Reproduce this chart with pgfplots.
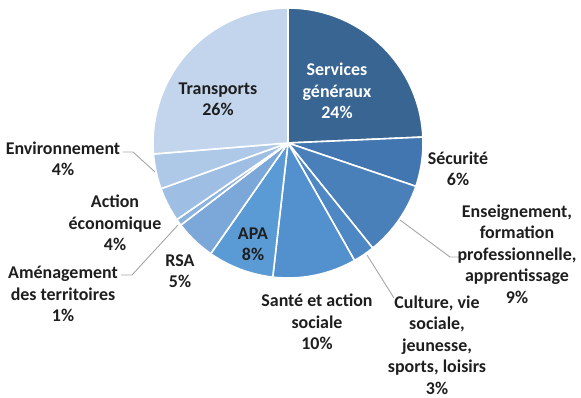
\documentclass[border=0pt]{standalone}
\usepackage{pgfplots}
\usepackage{pgfplotstable}
\pgfplotsset{compat=1.18}
\usepackage{fontspec}
\setmainfont{Carlito}
\definecolor{c1}{HTML}{386592}
\definecolor{c2}{HTML}{4276B0}
\definecolor{c3}{HTML}{4A80BA}
\definecolor{c4}{HTML}{4E88C4}
\definecolor{c5}{HTML}{5391CE}
\definecolor{c6}{HTML}{5B9BD5}
\definecolor{c7}{HTML}{7BA7D9}
\definecolor{c8}{HTML}{8CB2DE}
\definecolor{c9}{HTML}{9EBEE3}
\definecolor{c10}{HTML}{AEC8E8}
\definecolor{c11}{HTML}{C3D5ED}
\definecolor{lead}{HTML}{A6A6A6}
\definecolor{txt}{HTML}{1E1E1E}
% share of each budget item (%), clockwise from 12 o'clock
\pgfplotstableread{
value color
24.3 c1
5.9 c2
9.0 c3
2.6 c4
10.0 c5
7.9 c6
4.9 c7
0.8 c8
4.1 c9
4.2 c10
26.3 c11
}\piedata
\begin{document}
\begin{tikzpicture}
\path[use as bounding box] (0,0) rectangle (581bp,398bp);
\begin{axis}[at={(0,0)}, anchor=south west, scale only axis,
  width=581bp, height=398bp, xmin=0, xmax=581, ymin=0, ymax=398,
  hide axis, clip=false]
\def\angA{90}
\pgfplotstablegetrowsof{\piedata}\let\nrows\pgfplotsretval
\pgfmathtruncatemacro\lastrow{\nrows-1}
\pgfplotsforeachungrouped \i in {0,...,\lastrow}{%
  \pgfplotstablegetelem{\i}{value}\of\piedata \let\v\pgfplotsretval
  \pgfplotstablegetelem{\i}{color}\of\piedata \let\c\pgfplotsretval
  \pgfmathsetmacro\angB{\angA-3.6*\v}%
  \edef\doplot{\noexpand\addplot[fill=\c, draw=white, line width=1.6bp, line join=round, domain=\angB:\angA, samples=80, variable=\noexpand\t] ({288+135*cos(\noexpand\t)},{255+135*sin(\noexpand\t)}) -- (axis cs:288,255) -- cycle;}%
  \doplot
  \global\let\angA\angB
}
% leader lines
\addplot[lead, line width=0.9bp] coordinates {(400,178) (450,141) (459,141)};
\addplot[lead, line width=0.9bp] coordinates {(367,143) (394,100)};
\addplot[lead, line width=0.9bp] coordinates {(123,246) (133,246) (155,226)};
\addplot[lead, line width=0.9bp] coordinates {(178,173) (132,123) (121,123)};
% labels
\begin{scope}[every node/.style={align=center, font=\fontsize{18}{21.5}\selectfont\bfseries, text=txt, inner sep=0pt}]
\node[text=white] at (axis cs:337,307) {Services\\généraux\\24\%};
\node at (axis cs:218,299) {Transports\\26\%};
\node at (axis cs:458,229) {Sécurité\\6\%};
\node at (axis cs:517,144) {Enseignement,\\formation\\professionnelle,\\apprentissage\\9\%};
\node at (axis cs:437,53) {Culture, vie\\sociale,\\jeunesse,\\sports, loisirs\\3\%};
\node at (axis cs:317,76) {Santé et action\\sociale\\10\%};
\node at (axis cs:253,154) {APA\\8\%};
\node at (axis cs:180,127) {RSA\\5\%};
\node at (axis cs:63,104) {Aménagement\\des territoires\\1\%};
\node at (axis cs:115,175) {Action\\économique\\4\%};
\node at (axis cs:63,239) {Environnement\\4\%};
\end{scope}
\end{axis}
\end{tikzpicture}
\end{document}
